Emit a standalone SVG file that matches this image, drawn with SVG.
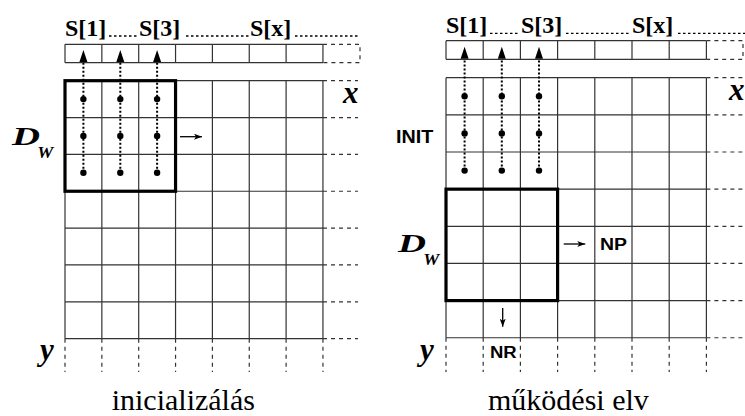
<svg xmlns="http://www.w3.org/2000/svg" width="745" height="416" viewBox="0 0 745 416">
  <style>
    .grid { stroke: #333; stroke-width: 1.2; fill: none; }
    .dash { stroke: #333; stroke-width: 1.2; stroke-dasharray: 4 4; fill: none; }
    .dotline { stroke: #000; stroke-width: 1.3; stroke-dasharray: 2.5 2.5; fill: none; }
    .win { stroke: #000; stroke-width: 3.2; fill: none; }
    .scan { stroke: #000; stroke-width: 2; stroke-dasharray: 2 2; fill: none; }
    .dot { fill: #000; }
    .move { stroke: #000; stroke-width: 1.3; fill: none; }
    .lab { font-family: 'Liberation Serif', 'DejaVu Serif', serif; font-weight: bold; font-size: 24px; fill: #000; }
    .axis { font-family: 'Liberation Serif', 'DejaVu Serif', serif; font-weight: bold; font-style: italic; fill: #000; }
    .tag { font-family: 'Liberation Sans', 'DejaVu Sans', sans-serif; font-weight: bold; fill: #000; }
    .cap { font-family: 'Liberation Serif', 'DejaVu Serif', serif; font-size: 30px; fill: #000; }
  </style>
  <defs>
    <marker id="head" viewBox="0 0 8 6" markerWidth="8" markerHeight="6" refX="8" refY="3" orient="auto" markerUnits="userSpaceOnUse">
      <path d="M0 0 L8 3 L0 6 L2 3 Z" fill="#000"/>
    </marker>
  </defs>

  <!-- left panel: initialisation -->
  <g id="left-panel">
    <g id="left-labels">
      <text class="lab" x="65" y="36">S[1]</text>
      <text class="lab" x="139" y="36">S[3]</text>
      <text class="lab" x="250" y="36">S[x]</text>
      <path class="dotline" d="M109 36 H138 M186 36 H249 M295 36 H360"/>
    </g>
    <g id="left-strip">
      <path class="grid" d="M65 44.3 H323 M65 62.7 H323 M65 44.3 V62.7 M101.85 44.3 V62.7 M138.7 44.3 V62.7 M175.55 44.3 V62.7 M212.4 44.3 V62.7 M249.25 44.3 V62.7 M286.1 44.3 V62.7 M322.95 44.3 V62.7"/>
      <path class="dash" d="M323 44.3 H360 V62.7 H323"/>
    </g>
    <g id="left-grid">
      <path class="grid" d="M65 80.7 H323 M65 117.55 H323 M65 154.4 H323 M65 191.25 H323 M65 228.1 H323 M65 264.95 H323 M65 301.8 H323 M65 338.65 H323
        M65 80.7 V338.65 M101.85 80.7 V338.65 M138.7 80.7 V338.65 M175.55 80.7 V338.65 M212.4 80.7 V338.65 M249.25 80.7 V338.65 M286.1 80.7 V338.65 M322.95 80.7 V338.65"/>
      <path class="dash" d="M323 80.7 H358 M323 117.55 H358 M323 154.4 H358 M323 191.25 H358 M323 228.1 H358 M323 264.95 H358 M323 301.8 H358 M323 338.65 H358
        M65 338.65 V372 M101.85 338.65 V372 M138.7 338.65 V372 M175.55 338.65 V372 M212.4 338.65 V372 M249.25 338.65 V372 M286.1 338.65 V372 M322.95 338.65 V372"/>
    </g>
    <g id="left-window">
      <rect class="win" x="65" y="80.7" width="110.55" height="110.55"/>
      <circle class="dot" cx="83.4" cy="99.1" r="3.2"/><circle class="dot" cx="83.4" cy="136" r="3.2"/><circle class="dot" cx="83.4" cy="172.8" r="3.2"/>
      <circle class="dot" cx="120.3" cy="99.1" r="3.2"/><circle class="dot" cx="120.3" cy="136" r="3.2"/><circle class="dot" cx="120.3" cy="172.8" r="3.2"/>
      <circle class="dot" cx="157.1" cy="99.1" r="3.2"/><circle class="dot" cx="157.1" cy="136" r="3.2"/><circle class="dot" cx="157.1" cy="172.8" r="3.2"/>
    </g>
    <g id="left-connectors">
      <path class="scan" d="M83.4 172.8 V62"/>
      <path class="scan" d="M120.3 172.8 V62"/>
      <path class="scan" d="M157.1 172.8 V62"/>
      <path d="M83.4 50 L87.4 62 L79.4 62 Z M120.3 50 L124.3 62 L116.3 62 Z M157.1 50 L161.1 62 L153.1 62 Z" fill="#000"/>
      <path class="move" d="M180 136.7 H202" marker-end="url(#head)"/>
    </g>
    <text class="axis" x="343" y="102.7" font-size="31">x</text>
    <text class="axis" x="40" y="360" font-size="31">y</text>
    <g id="left-dw">
      <text class="axis" x="12" y="145" font-size="26" textLength="28" lengthAdjust="spacingAndGlyphs">D</text>
      <text class="axis" x="37.3" y="158.3" font-size="16" textLength="16" lengthAdjust="spacingAndGlyphs">W</text>
    </g>
    <text class="cap" x="111.7" y="410">inicializálás</text>
  </g>

  <!-- right panel: operating principle -->
  <g id="right-panel">
    <g id="right-labels">
      <text class="lab" x="446" y="33.3">S[1]</text>
      <text class="lab" x="521" y="33.3">S[3]</text>
      <text class="lab" x="632" y="33.3">S[x]</text>
      <path class="dotline" d="M490 33.3 H520 M566 33.3 H631 M678 33.3 H745"/>
    </g>
    <g id="right-strip">
      <path class="grid" d="M446 40.7 H706.4 M446 59.3 H706.4 M446 40.7 V59.3 M483.2 40.7 V59.3 M520.4 40.7 V59.3 M557.6 40.7 V59.3 M594.8 40.7 V59.3 M632 40.7 V59.3 M669.2 40.7 V59.3 M706.4 40.7 V59.3"/>
      <path class="dash" d="M706.4 40.7 H743 V59.3 H706.4"/>
    </g>
    <g id="right-grid">
      <path class="grid" d="M446 77.7 H706.4 M446 114.85 H706.4 M446 152 H706.4 M446 189.15 H706.4 M446 226.3 H706.4 M446 263.45 H706.4 M446 300.6 H706.4 M446 337.75 H706.4
        M446 77.7 V337.75 M483.2 77.7 V337.75 M520.4 77.7 V337.75 M557.6 77.7 V337.75 M594.8 77.7 V337.75 M632 77.7 V337.75 M669.2 77.7 V337.75 M706.4 77.7 V337.75"/>
      <path class="dash" d="M706.4 77.7 H745 M706.4 114.85 H745 M706.4 152 H745 M706.4 189.15 H745 M706.4 226.3 H745 M706.4 263.45 H745 M706.4 300.6 H745 M706.4 337.75 H745
        M446 337.75 V372 M483.2 337.75 V372 M520.4 337.75 V372 M557.6 337.75 V372 M594.8 337.75 V372 M632 337.75 V372 M669.2 337.75 V372 M706.4 337.75 V372"/>
    </g>
    <g id="right-init">
      <circle class="dot" cx="464.6" cy="96.3" r="3.2"/><circle class="dot" cx="464.6" cy="133.4" r="3.2"/><circle class="dot" cx="464.6" cy="170.6" r="3.2"/>
      <circle class="dot" cx="501.8" cy="96.3" r="3.2"/><circle class="dot" cx="501.8" cy="133.4" r="3.2"/><circle class="dot" cx="501.8" cy="170.6" r="3.2"/>
      <circle class="dot" cx="539" cy="96.3" r="3.2"/><circle class="dot" cx="539" cy="133.4" r="3.2"/><circle class="dot" cx="539" cy="170.6" r="3.2"/>
      <text class="tag" x="396" y="142.7" font-size="19" textLength="37.3" lengthAdjust="spacingAndGlyphs">INIT</text>
    </g>
    <g id="right-window">
      <rect class="win" x="446" y="189.15" width="111.6" height="111.45"/>
    </g>
    <g id="right-connectors">
      <path class="scan" d="M464.6 170.6 V58.5"/>
      <path class="scan" d="M501.8 170.6 V58.5"/>
      <path class="scan" d="M539 170.6 V58.5"/>
      <path d="M464.6 46.7 L468.6 58.7 L460.6 58.7 Z M501.8 46.7 L505.8 58.7 L497.8 58.7 Z M539 46.7 L543 58.7 L535 58.7 Z" fill="#000"/>
      <path class="move" d="M563.7 244 H585.3" marker-end="url(#head)"/>
      <path class="move" d="M502.7 308 V326.7" marker-end="url(#head)"/>
    </g>
    <text class="tag" x="600" y="250" font-size="16" textLength="27" lengthAdjust="spacingAndGlyphs">NP</text>
    <text class="tag" x="490" y="358.3" font-size="16" textLength="26.7" lengthAdjust="spacingAndGlyphs">NR</text>
    <text class="axis" x="729" y="100" font-size="31">x</text>
    <text class="axis" x="420" y="360" font-size="31">y</text>
    <g id="right-dw">
      <text class="axis" x="398" y="251.7" font-size="26" textLength="28" lengthAdjust="spacingAndGlyphs">D</text>
      <text class="axis" x="423.3" y="265" font-size="16" textLength="16" lengthAdjust="spacingAndGlyphs">W</text>
    </g>
    <text class="cap" x="488" y="410">működési elv</text>
  </g>
</svg>
